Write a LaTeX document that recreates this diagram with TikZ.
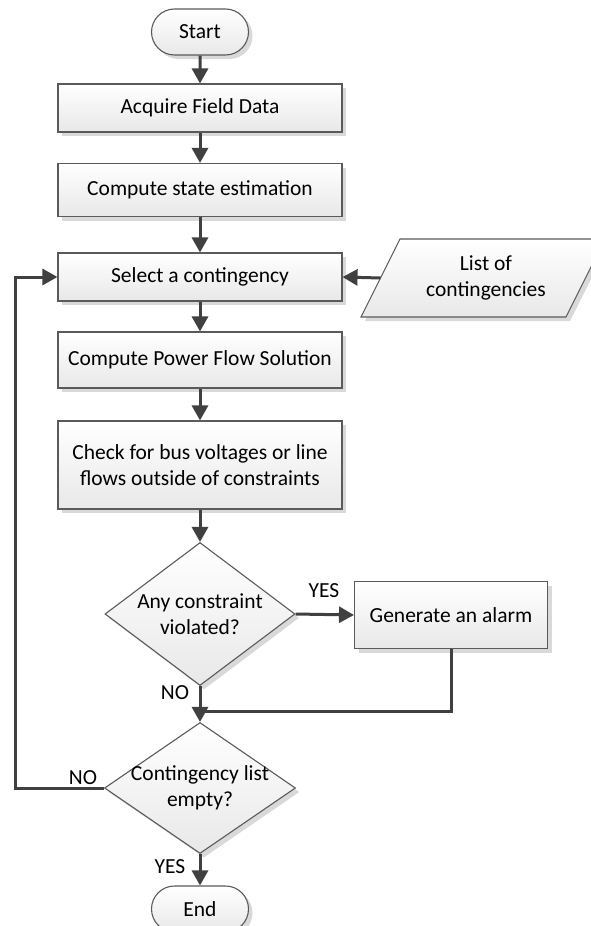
\documentclass[tikz,border=0pt]{standalone}
\usepackage{fontspec}
\setmainfont{Carlito}
\usetikzlibrary{shapes.geometric,shapes.misc,shadows,arrows.meta}

\definecolor{edge}{HTML}{5A5A5A}
\definecolor{wire}{HTML}{404040}
\definecolor{shade}{HTML}{D9D9D9}

\tikzset{
  boxbase/.style={draw=edge, line width=1.1pt, top color=white, bottom color=black!9,
    drop shadow={shadow xshift=4pt, shadow yshift=-4pt, fill=shade, opacity=1},
    inner sep=0pt, align=center, font=\fontsize{21.5}{26}\selectfont},
  procbox/.style={boxbase, rectangle, minimum width=284pt},
  termbox/.style={boxbase, rounded rectangle, minimum width=97pt, minimum height=46pt},
  decision/.style={boxbase, diamond},
  dtext/.style={inner sep=0pt, align=center, font=\fontsize{21.5}{26}\selectfont},
  flow/.style={draw=wire, line width=3pt, -{Triangle[length=15pt,width=16pt]}},
  wireline/.style={draw=wire, line width=3pt},
  tag/.style={inner sep=0pt, font=\fontsize{21.5}{24}\selectfont}
}

\begin{document}
\begin{tikzpicture}[x=1pt,y=-1pt]
  \clip (0,0) rectangle (591,926);
  \fill[white] (0,0) rectangle (591,926);

  % main column
  \node[termbox] (start) at (200,32) {Start};
  \node[procbox, minimum height=48pt] (acq) at (200,108) {Acquire Field Data};
  \node[procbox, minimum height=53pt] (est) at (200,190) {Compute state estimation};
  \node[procbox, minimum height=48pt] (sel) at (200,277) {Select a contingency};
  \node[procbox, minimum height=56pt] (pf) at (200,360) {Compute Power Flow Solution};
  \node[procbox, minimum height=88pt] (chk) at (200,465) {Check for bus voltages or line\\flows outside of constraints};

  \node[decision, minimum width=190pt, minimum height=143pt] (viol) at (200,614) {};
  \node[dtext] (violtxt) at (viol) {Any constraint\\violated?};

  \node[procbox, minimum width=193pt, minimum height=67pt] (alarm) at (451,615) {Generate an alarm};

  \node[decision, minimum width=191pt, minimum height=131pt] (empty) at (200,788) {};
  \node[dtext] (emptytxt) at (empty) {Contingency list\\empty?};

  \node[termbox] (finish) at (200,909) {End};

  % input data (parallelogram)
  \path[boxbase] (400,239) -- (605,239) -- (566,317) -- (361,317) -- cycle;
  \node[dtext] (list) at (486,278) {List of\\contingencies};
  \coordinate (listin) at (380.5,278);

  % connectors
  \draw[flow] (start) -- (acq);
  \draw[flow] (acq) -- (est);
  \draw[flow] (est) -- (sel);
  \draw[flow] (sel) -- (pf);
  \draw[flow] (pf) -- (chk);
  \draw[flow] (chk) -- (viol);
  \draw[flow] (listin) -- (sel.east);
  \draw[flow] (viol.east) -- (alarm.west);
  \draw[flow] (viol.south) -- (empty.north);
  \coordinate (merge) at (200,711);
  \draw[wireline] (alarm.south) |- (merge);
  \coordinate (loopcorner) at (15,788);
  \draw[flow] (empty.west) -- (loopcorner) |- (sel.west);
  \draw[flow] (empty.south) -- (finish.north);

  % branch labels
  \node[tag] (yes1) at (324,591) {YES};
  \node[tag] (no1) at (175,693) {NO};
  \node[tag] (no2) at (83,778) {NO};
  \node[tag] (yes2) at (170,867) {YES};
\end{tikzpicture}
\end{document}
